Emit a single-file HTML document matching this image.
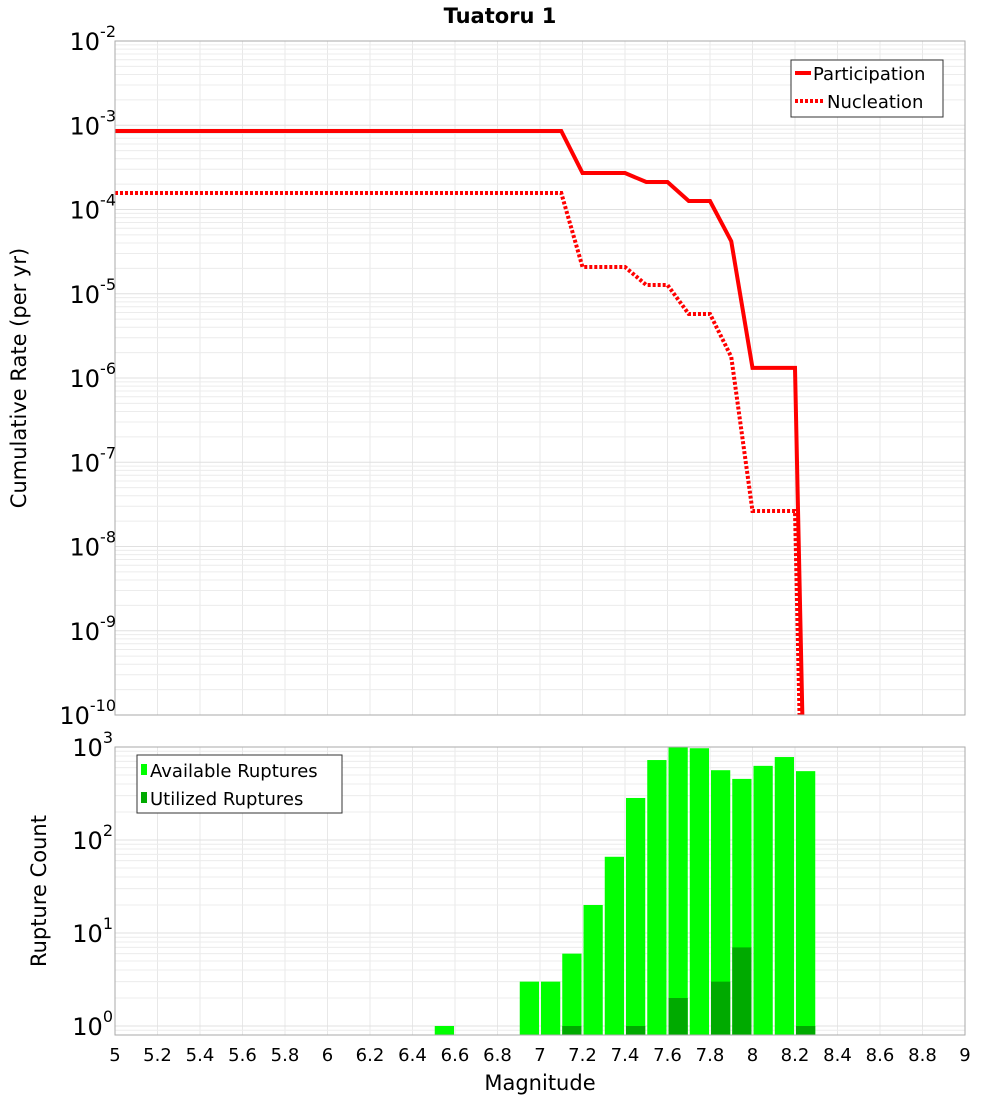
<!DOCTYPE html>
<html><head><meta charset="utf-8"><style>
body{margin:0;background:#fff}
svg text{font-family:"DejaVu Sans","Liberation Sans",sans-serif}
</style></head><body>
<svg id="c" width="1000" height="1100" xmlns="http://www.w3.org/2000/svg">
<defs>
<clipPath id="clipTop"><rect x="115" y="41" width="850" height="674"/></clipPath>
</defs>
<text x="500" y="23" text-anchor="middle" font-size="21" font-weight="bold">Tuatoru 1</text>
<g id="gridTop"></g>
<g id="gridBot"></g>
<g id="bars"></g>
<g id="lines" clip-path="url(#clipTop)"></g>
<rect x="115" y="41" width="850" height="674" fill="none" stroke="#aaa"/>
<rect x="115" y="747" width="850" height="288" fill="none" stroke="#aaa"/>
<g id="axes"></g>
<text transform="translate(26,378) rotate(-90)" text-anchor="middle" font-size="21">Cumulative Rate (per yr)</text>
<text transform="translate(46,891) rotate(-90)" text-anchor="middle" font-size="21">Rupture Count</text>
<text x="540" y="1090" text-anchor="middle" font-size="21">Magnitude</text>
<g>
<rect x="791" y="60" width="152" height="57" fill="#fff" stroke="#333"/>
<line x1="795" y1="73" x2="811" y2="73" stroke="red" stroke-width="4"/>
<text x="813" y="80" font-size="18">Participation</text>
<line x1="795" y1="101" x2="823" y2="101" stroke="red" stroke-width="4" stroke-dasharray="3,2"/>
<text x="827" y="108" font-size="18">Nucleation</text>
</g>
<g>
<rect x="137" y="755" width="205" height="58" fill="#fff" stroke="#333"/>
<rect x="141" y="764" width="6" height="11" fill="#00ff00"/>
<text x="150" y="777" font-size="18">Available Ruptures</text>
<rect x="141" y="792" width="6" height="11" fill="#00aa00"/>
<text x="150" y="805" font-size="18">Utilized Ruptures</text>
</g>
</svg>
<script>
const partMags=[5.0,7.1,7.2,7.4,7.5,7.6,7.7,7.8,7.9,8.0,8.2,8.243];
const partRates=[8.55e-4,8.55e-4,2.71e-4,2.71e-4,2.12e-4,2.12e-4,1.26e-4,1.26e-4,4.2e-5,1.32e-6,1.32e-6,1e-11];
const nuclMags=[5.0,7.1,7.2,7.4,7.5,7.6,7.7,7.8,7.9,8.0,8.2,8.23];
const nuclRates=[1.57e-4,1.57e-4,2.08e-5,2.08e-5,1.27e-5,1.27e-5,5.75e-6,5.75e-6,1.78e-6,2.64e-8,2.64e-8,1e-11];
const binStarts=[6.5,6.9,7.0,7.1,7.2,7.3,7.4,7.5,7.6,7.7,7.8,7.9,8.0,8.1,8.2];
const availCounts=[1,3,3,6,20,66,283,724,1000,970,563,454,627,780,550];
const utilCounts=[0,0,0,1,0,0,1,0,2,0,3,7,0,0,1];
const xTicks=["5","5.2","5.4","5.6","5.8","6","6.2","6.4","6.6","6.8","7","7.2","7.4","7.6","7.8","8","8.2","8.4","8.6","8.8","9"];
const topExps=[-2,-3,-4,-5,-6,-7,-8,-9,-10];
const botExps=[3,2,1,0];

const NS="http://www.w3.org/2000/svg";
function mk(t,a,p){const e=document.createElementNS(NS,t);for(const k in a)e.setAttribute(k,a[k]);p.appendChild(e);return e;}
const X=m=>115+(m-5)*212.5;
const YT=v=>41+(-2-Math.log10(v))*84.25;
const YB=v=>747+(3-Math.log10(v))*93;
const gT=document.getElementById('gridTop'),gB=document.getElementById('gridBot'),ax=document.getElementById('axes');
for(let i=0;i<xTicks.length;i++){const x=X(parseFloat(xTicks[i]));
 let l=mk('line',{x1:x,x2:x,y1:41,y2:715,stroke:'#e8e8e8'},gT);
 
 l=mk('line',{x1:x,x2:x,y1:747,y2:1035,stroke:'#e8e8e8'},gB);
 
 const t=mk('text',{x:x,y:1061,'text-anchor':'middle','font-size':'18'},ax);t.textContent=xTicks[i];
 
}
for(let e=-10;e<-2;e++)for(let k=1;k<10;k++){const y=YT(k*Math.pow(10,e));
 const l=mk('line',{x1:115,x2:965,y1:y,y2:y,stroke:k==1?'#e0e0e0':'#ececec'},gT);
 }
for(let e=-1;e<3;e++)for(let k=1;k<10;k++){const y=YB(k*Math.pow(10,e));if(y>1035)continue;
 const l=mk('line',{x1:115,x2:965,y1:y,y2:y,stroke:k==1?'#e0e0e0':'#ececec'},gB);
 }
function ylab(y,e,nm){const t=mk('text',{x:(e<0?116:113),y:y+9,'text-anchor':'end','font-size':'24'},ax);
 
 t.appendChild(document.createTextNode('10'));
 const s=mk('tspan',{dy:'-13','font-size':'16'},t);s.textContent=String(e);}
topExps.forEach(e=>ylab(YT(Math.pow(10,e)),e,'top-y-tick-label'));
botExps.forEach(e=>ylab(YB(Math.pow(10,e)),e,'bottom-y-tick-label'));
const bg=document.getElementById('bars');
for(let i=0;i<binStarts.length;i++){const x0=X(binStarts[i])+1,w=212.5*0.1-2;
 const y=YB(availCounts[i]);
 let r=mk('rect',{x:x0,y:y,width:w,height:1035-y,fill:'#00ff00'},bg);
 
 if(utilCounts[i]>0){const yu=YB(utilCounts[i]);
  r=mk('rect',{x:x0,y:yu,width:w,height:1035-yu,fill:'#00aa00'},bg);
  }
}
const lg=document.getElementById('lines');
function pts(m,v){return m.map((a,i)=>X(a)+','+YT(v[i])).join(' ');}
let p=mk('polyline',{points:pts(partMags,partRates),fill:'none',stroke:'red','stroke-width':4,'stroke-linejoin':'miter'},lg);

p=mk('polyline',{points:pts(nuclMags,nuclRates),fill:'none',stroke:'red','stroke-width':4,'stroke-dasharray':'3,2'},lg);

</script>
</body></html>
